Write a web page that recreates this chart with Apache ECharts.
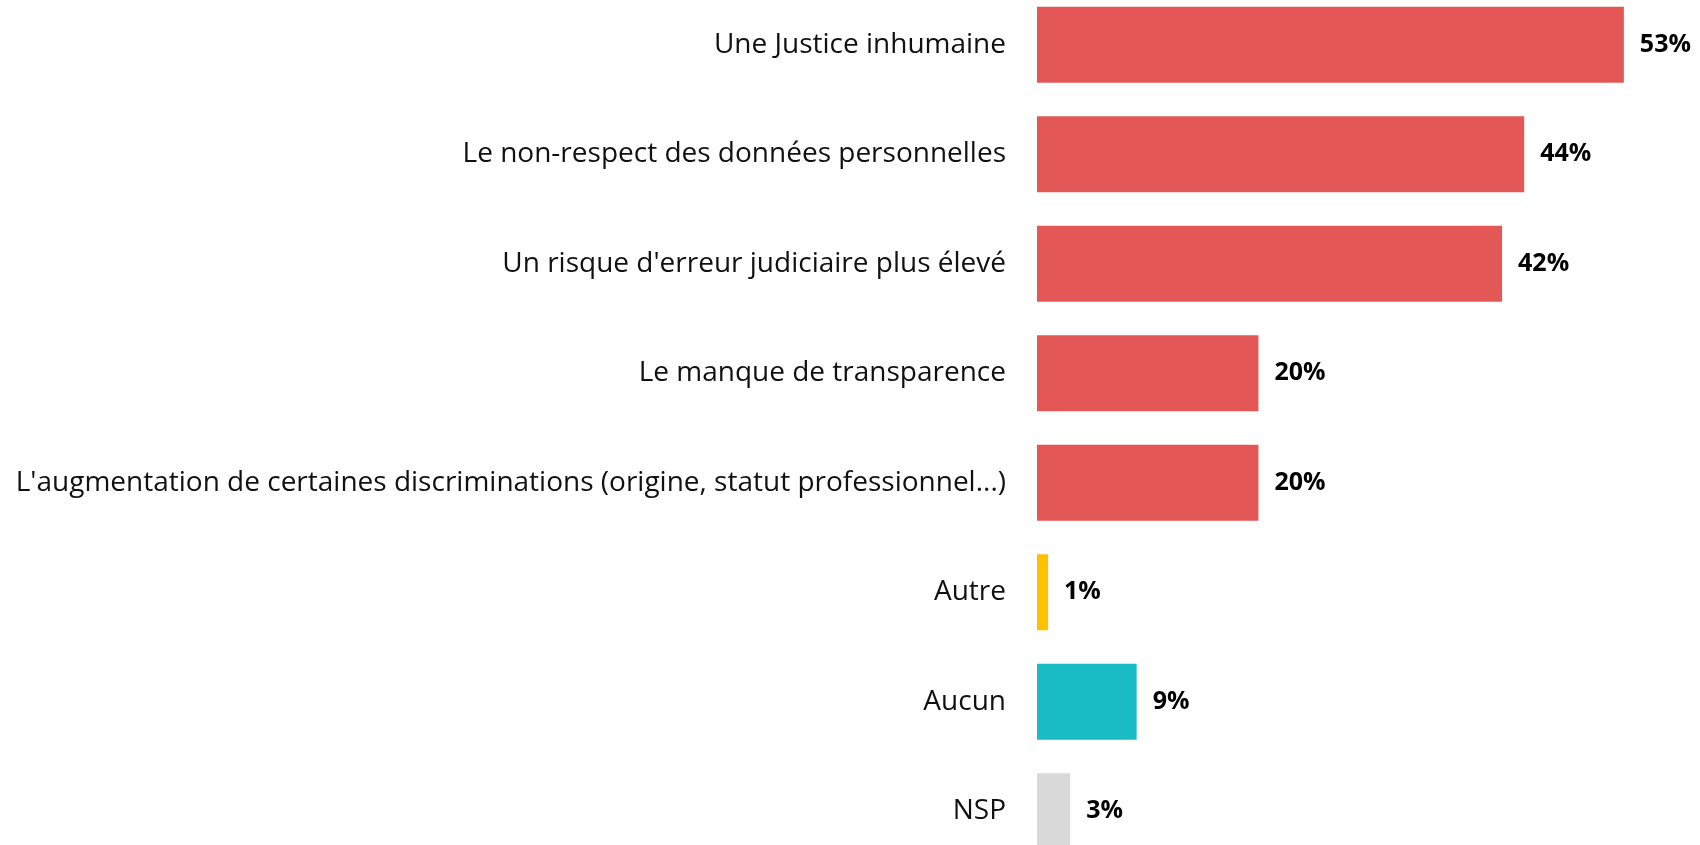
<!DOCTYPE html>
<html lang="fr">
<head>
    <meta charset="UTF-8">
    <title>Risques de la Justice</title>
    <script src="https://cdn.jsdelivr.net/npm/echarts@6/dist/echarts.min.js"></script>
    <style>
        html, body {
            margin: 0;
            padding: 0;
            background: #ffffff;
        }
        #chart {
            width: 1700px;
            height: 845px;
        }
    </style>
</head>
<body>
    <div id="chart"></div>
    <script>
        // libellés et valeurs (%)
        const categories = [
            'Une Justice inhumaine',
            'Le non-respect des données personnelles',
            "Un risque d'erreur judiciaire plus élevé",
            'Le manque de transparence',
            "L'augmentation de certaines discriminations (origine, statut professionnel...)",
            'Autre',
            'Aucun',
            'NSP'
        ];
        const values = [53, 44, 42, 20, 20, 1, 9, 3];
        const barColors = ['#E35757', '#E35757', '#E35757', '#E35757', '#E35757', '#FFC000', '#1ABCC4', '#D9D9D9'];

        const fontFamily = "'Open Sans', 'Noto Sans', sans-serif";

        const chart = echarts.init(document.getElementById('chart'));

        const option = {
            animation: false,
            grid: {
                left: 1037,
                right: 54,
                top: -10,
                height: 876,
                containLabel: false,
                outerBoundsMode: 'none'
            },
            xAxis: {
                type: 'value',
                min: 0,
                max: 55,
                show: false
            },
            yAxis: {
                type: 'category',
                inverse: true,
                data: categories,
                axisLine: { show: false },
                axisTick: { show: false },
                axisLabel: {
                    margin: 31,
                    fontSize: 28,
                    color: '#111111',
                    fontFamily: fontFamily
                }
            },
            series: [{
                type: 'bar',
                barWidth: 76,
                data: values.map((v, i) => ({
                    value: v,
                    itemStyle: { color: barColors[i] }
                })),
                label: {
                    show: true,
                    position: 'right',
                    distance: 16,
                    formatter: '{c}%',
                    fontSize: 25,
                    fontWeight: 'bold',
                    color: '#000000',
                    fontFamily: fontFamily
                }
            }]
        };

        chart.setOption(option);
    </script>
</body>
</html>
